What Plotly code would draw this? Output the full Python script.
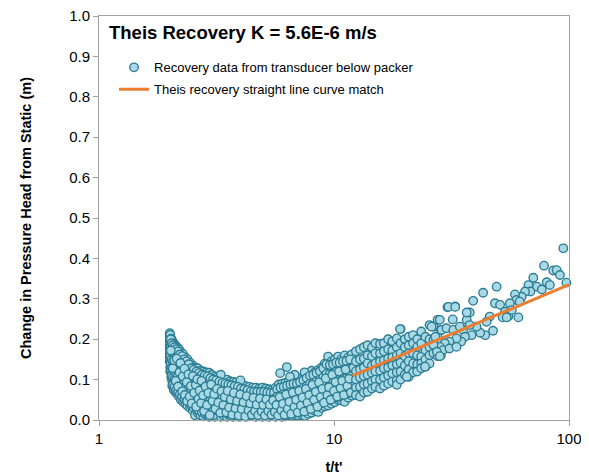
import plotly.graph_objects as go

# ---- Data ----
# Late-time recovery (low t/t'), dense cloud
late_t = [
    2.00, 2.00, 2.00, 2.00, 2.00, 2.00, 2.00, 2.00,
    2.01, 2.01, 2.01, 2.01, 2.01, 2.01,
    2.03, 2.03, 2.03, 2.03, 2.03, 2.03,
    2.05, 2.05, 2.05, 2.05, 2.05, 2.05, 2.05,
    2.08, 2.08, 2.08, 2.08, 2.08, 2.08, 2.08,
    2.11, 2.11, 2.11, 2.11, 2.11, 2.11, 2.11,
    2.15, 2.15, 2.15, 2.15, 2.15, 2.15, 2.15,
    2.19, 2.19, 2.19, 2.19, 2.19, 2.19, 2.19,
    2.23, 2.23, 2.23, 2.23, 2.23, 2.23, 2.23,
    2.28, 2.28, 2.28, 2.28, 2.28, 2.28, 2.28,
    2.33, 2.33, 2.33, 2.33, 2.33, 2.33, 2.33,
    2.38, 2.38, 2.38, 2.38, 2.38, 2.38, 2.38,
    2.44, 2.44, 2.44, 2.44, 2.44, 2.44, 2.44,
    2.50, 2.50, 2.50, 2.50, 2.50, 2.50, 2.50,
    2.56, 2.56, 2.56, 2.56, 2.56, 2.56, 2.56,
    2.63, 2.63, 2.63, 2.63, 2.63, 2.63, 2.63,
    2.70, 2.70, 2.70, 2.70, 2.70, 2.70, 2.70,
    2.78, 2.78, 2.78, 2.78, 2.78, 2.78, 2.78,
    2.86, 2.86, 2.86, 2.86, 2.86, 2.86, 2.86,
    2.94, 2.94, 2.94, 2.94, 2.94, 2.94, 2.94,
    3.02, 3.02, 3.02, 3.02, 3.02, 3.02, 3.02,
    3.11, 3.11, 3.11, 3.11, 3.11, 3.11, 3.11,
    3.20, 3.20, 3.20, 3.20, 3.20, 3.20,
    3.30, 3.30, 3.30, 3.30, 3.30, 3.30, 3.30,
    3.40, 3.40, 3.40, 3.40, 3.40, 3.40,
    3.50, 3.50, 3.50, 3.50, 3.50, 3.50, 3.50,
    3.61, 3.61, 3.61, 3.61, 3.61, 3.61,
    3.72, 3.72, 3.72, 3.72, 3.72, 3.72,
    3.84, 3.84, 3.84, 3.84, 3.84, 3.84,
    3.96, 3.96, 3.96, 3.96, 3.96, 3.96,
    4.09, 4.09, 4.09, 4.09, 4.09, 4.09,
    4.22, 4.22, 4.22, 4.22, 4.22, 4.22,
    4.36, 4.36, 4.36, 4.36, 4.36, 4.36,
    4.50, 4.50, 4.50, 4.50, 4.50,
    4.65, 4.65, 4.65, 4.65, 4.65, 4.65,
    4.80, 4.80, 4.80, 4.80, 4.80,
    4.96, 4.96, 4.96, 4.96, 4.96, 4.96,
    5.12, 5.12, 5.12, 5.12, 5.12,
    5.29, 5.29, 5.29, 5.29, 5.29, 5.29,
    5.46, 5.46, 5.46, 5.46, 5.46,
    5.64, 5.64, 5.64, 5.64, 5.64, 5.64,
    5.82, 5.82, 5.82, 5.82, 5.82,
    6.01, 6.01, 6.01, 6.01, 6.01, 6.01,
    6.21, 6.21, 6.21, 6.21, 6.21, 6.21,
    6.41, 6.41, 6.41, 6.41, 6.41, 6.41,
    6.62, 6.62, 6.62, 6.62, 6.62, 6.62,
    6.84, 6.84, 6.84, 6.84, 6.84, 6.84,
    7.06, 7.06, 7.06, 7.06, 7.06, 7.06,
    7.29, 7.29, 7.29, 7.29, 7.29, 7.29,
    7.53, 7.53, 7.53, 7.53, 7.53, 7.53,
    7.78, 7.78, 7.78, 7.78, 7.78, 7.78,
    8.03, 8.03, 8.03, 8.03, 8.03, 8.03,
    8.30, 8.30, 8.30, 8.30, 8.30, 8.30,
    8.57, 8.57, 8.57, 8.57, 8.57, 8.57,
    8.85, 8.85, 8.85, 8.85, 8.85, 8.85,
    9.14, 9.14, 9.14, 9.14, 9.14, 9.14,
    9.44, 9.44, 9.44, 9.44, 9.44, 9.44, 9.44,
    9.75, 9.75, 9.75, 9.75, 9.75, 9.75,
    10.07, 10.07, 10.07, 10.07, 10.07, 10.07,
    10.40, 10.40, 10.40, 10.40, 10.40, 10.40,
    10.74, 10.74, 10.74, 10.74, 10.74, 10.74,
    11.10, 11.10, 11.10, 11.10, 11.10, 11.10,
    11.50, 11.50, 11.50, 11.50, 11.50, 11.50,
    11.90, 11.90, 11.90, 11.90, 11.90, 11.90,
    6.30, 5.90, 6.80, 7.50, 4.00, 3.30, 6.50,
]
late_dh = [
    0.215, 0.206, 0.196, 0.186, 0.176, 0.165, 0.155, 0.145,
    0.211, 0.190, 0.171, 0.150, 0.131, 0.120,
    0.201, 0.181, 0.160, 0.141, 0.121, 0.105,
    0.196, 0.175, 0.156, 0.135, 0.116, 0.096, 0.085,
    0.190, 0.171, 0.150, 0.131, 0.110, 0.091, 0.075,
    0.185, 0.166, 0.145, 0.124, 0.106, 0.086, 0.070,
    0.180, 0.161, 0.140, 0.121, 0.100, 0.081, 0.065,
    0.175, 0.154, 0.136, 0.115, 0.096, 0.075, 0.058,
    0.168, 0.150, 0.131, 0.110, 0.091, 0.070, 0.050,
    0.163, 0.144, 0.126, 0.105, 0.086, 0.066, 0.045,
    0.155, 0.139, 0.120, 0.101, 0.080, 0.061, 0.040,
    0.150, 0.131, 0.112, 0.094, 0.075, 0.056, 0.035,
    0.142, 0.124, 0.106, 0.088, 0.070, 0.051, 0.030,
    0.135, 0.118, 0.100, 0.082, 0.064, 0.046, 0.025,
    0.130, 0.112, 0.096, 0.078, 0.060, 0.040, 0.012,
    0.128, 0.109, 0.092, 0.074, 0.057, 0.036, 0.018,
    0.122, 0.105, 0.088, 0.071, 0.052, 0.032, 0.012,
    0.120, 0.101, 0.084, 0.066, 0.048, 0.028, 0.009,
    0.118, 0.098, 0.080, 0.062, 0.044, 0.025, 0.011,
    0.117, 0.095, 0.077, 0.059, 0.040, 0.022, 0.008,
    0.112, 0.092, 0.074, 0.056, 0.038, 0.020, 0.009,
    0.108, 0.090, 0.071, 0.052, 0.034, 0.016, 0.008,
    0.106, 0.086, 0.068, 0.050, 0.032, 0.014,
    0.104, 0.084, 0.066, 0.048, 0.030, 0.013, 0.008,
    0.100, 0.082, 0.064, 0.046, 0.028, 0.010,
    0.100, 0.080, 0.062, 0.044, 0.026, 0.012, 0.008,
    0.096, 0.078, 0.060, 0.042, 0.024, 0.009,
    0.094, 0.076, 0.058, 0.040, 0.022, 0.008,
    0.093, 0.074, 0.056, 0.038, 0.020, 0.009,
    0.090, 0.072, 0.054, 0.036, 0.018, 0.008,
    0.086, 0.070, 0.052, 0.034, 0.016, 0.009,
    0.084, 0.066, 0.050, 0.032, 0.014, 0.008,
    0.082, 0.064, 0.048, 0.030, 0.012, 0.009,
    0.080, 0.062, 0.046, 0.028, 0.010,
    0.080, 0.060, 0.044, 0.026, 0.012, 0.008,
    0.078, 0.060, 0.042, 0.024, 0.009,
    0.080, 0.062, 0.044, 0.026, 0.012, 0.008,
    0.078, 0.060, 0.042, 0.024, 0.009,
    0.076, 0.060, 0.044, 0.026, 0.012, 0.008,
    0.075, 0.058, 0.042, 0.026, 0.010,
    0.080, 0.062, 0.046, 0.028, 0.014, 0.008,
    0.088, 0.068, 0.050, 0.032, 0.014,
    0.090, 0.070, 0.052, 0.034, 0.016, 0.008,
    0.092, 0.074, 0.056, 0.036, 0.018, 0.009,
    0.095, 0.076, 0.058, 0.040, 0.022, 0.010,
    0.098, 0.078, 0.060, 0.042, 0.024, 0.010,
    0.100, 0.080, 0.062, 0.044, 0.026, 0.012,
    0.096, 0.080, 0.064, 0.046, 0.028, 0.011,
    0.104, 0.084, 0.066, 0.048, 0.030, 0.013,
    0.110, 0.090, 0.070, 0.052, 0.034, 0.010,
    0.112, 0.094, 0.074, 0.056, 0.036, 0.015,
    0.122, 0.100, 0.080, 0.060, 0.040, 0.018,
    0.118, 0.100, 0.082, 0.064, 0.044, 0.022,
    0.124, 0.106, 0.086, 0.066, 0.046, 0.020,
    0.130, 0.110, 0.090, 0.070, 0.050, 0.030,
    0.140, 0.118, 0.096, 0.076, 0.054, 0.034,
    0.157, 0.132, 0.110, 0.088, 0.066, 0.046, 0.036,
    0.145, 0.124, 0.102, 0.080, 0.060, 0.040,
    0.150, 0.128, 0.106, 0.084, 0.064, 0.044,
    0.157, 0.132, 0.110, 0.090, 0.070, 0.050,
    0.150, 0.130, 0.108, 0.088, 0.068, 0.048,
    0.160, 0.136, 0.114, 0.092, 0.072, 0.045,
    0.155, 0.134, 0.112, 0.094, 0.075, 0.055,
    0.162, 0.140, 0.118, 0.098, 0.078, 0.060,
    0.131, 0.116, 0.112, 0.118, 0.098, 0.112, 0.107,
]

# More late-time readings lying between the columns above
late2_t = [
    2.02, 2.02, 2.02, 2.02, 2.02,
    2.04, 2.04, 2.04, 2.04, 2.04,
    2.065, 2.065, 2.065, 2.065, 2.065, 2.065,
    2.095, 2.095, 2.095, 2.095, 2.095, 2.095,
    2.13, 2.13, 2.13, 2.13, 2.13, 2.13,
    2.17, 2.17, 2.17, 2.17, 2.17, 2.17,
    2.21, 2.21, 2.21, 2.21, 2.21, 2.21,
    2.255, 2.255, 2.255, 2.255, 2.255, 2.255,
    2.305, 2.305, 2.305, 2.305, 2.305, 2.305,
    2.355, 2.355, 2.355, 2.355, 2.355, 2.355,
    2.41, 2.41, 2.41, 2.41, 2.41, 2.41,
    2.47, 2.47, 2.47, 2.47, 2.47, 2.47,
    2.53, 2.53, 2.53, 2.53, 2.53, 2.53,
    2.60, 2.60, 2.60, 2.60, 2.60, 2.60,
    2.66, 2.66, 2.66, 2.66, 2.66, 2.66,
    2.74, 2.74, 2.74, 2.74, 2.74, 2.74,
    2.82, 2.82, 2.82, 2.82, 2.82, 2.82,
    2.90, 2.90, 2.90, 2.90, 2.90, 2.90,
    2.98, 2.98, 2.98, 2.98, 2.98, 2.98,
    3.06, 3.06, 3.06, 3.06, 3.06, 3.06,
    3.15, 3.15, 3.15, 3.15, 3.15,
    3.25, 3.25, 3.25, 3.25, 3.25,
    3.35, 3.35, 3.35, 3.35, 3.35,
    3.45, 3.45, 3.45, 3.45, 3.45,
    3.55, 3.55, 3.55, 3.55, 3.55,
    3.66, 3.66, 3.66, 3.66, 3.66,
    3.78, 3.78, 3.78, 3.78, 3.78,
    3.90, 3.90, 3.90, 3.90, 3.90,
    4.02, 4.02, 4.02, 4.02, 4.02,
    4.15, 4.15, 4.15, 4.15,
    4.29, 4.29, 4.29, 4.29,
    4.43, 4.43, 4.43, 4.43,
    4.57, 4.57, 4.57, 4.57,
    4.72, 4.72, 4.72, 4.72,
    4.88, 4.88, 4.88, 4.88,
    5.04, 5.04, 5.04, 5.04,
    5.20, 5.20, 5.20, 5.20,
    5.37, 5.37, 5.37, 5.37,
    5.55, 5.55, 5.55, 5.55,
    5.73, 5.73, 5.73, 5.73,
    5.92, 5.92, 5.92, 5.92,
    6.11, 6.11, 6.11, 6.11, 6.11,
    6.31, 6.31, 6.31, 6.31, 6.31,
    6.52, 6.52, 6.52, 6.52, 6.52,
    6.73, 6.73, 6.73, 6.73, 6.73,
    6.95, 6.95, 6.95, 6.95, 6.95,
    7.17, 7.17, 7.17, 7.17, 7.17,
    7.41, 7.41, 7.41, 7.41, 7.41,
    7.65, 7.65, 7.65, 7.65, 7.65,
    7.90, 7.90, 7.90, 7.90, 7.90,
    8.16, 8.16, 8.16, 8.16, 8.16,
    8.43, 8.43, 8.43, 8.43, 8.43,
    8.71, 8.71, 8.71, 8.71, 8.71,
    9.00, 9.00, 9.00, 9.00, 9.00,
    9.29, 9.29, 9.29, 9.29, 9.29,
    9.60, 9.60, 9.60, 9.60, 9.60,
    9.90, 9.90, 9.90, 9.90, 9.90,
    10.23, 10.23, 10.23, 10.23, 10.23,
    10.57, 10.57, 10.57, 10.57, 10.57,
    10.92, 10.92, 10.92, 10.92, 10.92,
    11.30, 11.30, 11.30, 11.30, 11.30,
    11.70, 11.70, 11.70, 11.70, 11.70,
]
late2_dh = [
    0.200, 0.180, 0.160, 0.140, 0.125,
    0.190, 0.170, 0.150, 0.130, 0.110,
    0.185, 0.165, 0.145, 0.125, 0.105, 0.088,
    0.180, 0.160, 0.140, 0.120, 0.100, 0.082,
    0.175, 0.155, 0.135, 0.115, 0.095, 0.075,
    0.170, 0.150, 0.130, 0.110, 0.090, 0.070,
    0.162, 0.142, 0.122, 0.102, 0.082, 0.064,
    0.158, 0.138, 0.118, 0.098, 0.078, 0.058,
    0.150, 0.130, 0.110, 0.090, 0.070, 0.052,
    0.145, 0.125, 0.106, 0.086, 0.066, 0.048,
    0.138, 0.120, 0.100, 0.083, 0.064, 0.045,
    0.128, 0.110, 0.092, 0.074, 0.055, 0.036,
    0.124, 0.106, 0.088, 0.070, 0.052, 0.030,
    0.120, 0.102, 0.084, 0.066, 0.048, 0.026,
    0.116, 0.098, 0.080, 0.062, 0.044, 0.024,
    0.112, 0.094, 0.076, 0.058, 0.040, 0.020,
    0.110, 0.092, 0.074, 0.055, 0.036, 0.017,
    0.108, 0.088, 0.070, 0.052, 0.032, 0.015,
    0.104, 0.084, 0.066, 0.048, 0.030, 0.014,
    0.100, 0.081, 0.062, 0.044, 0.026, 0.012,
    0.098, 0.079, 0.060, 0.042, 0.024,
    0.095, 0.076, 0.058, 0.040, 0.022,
    0.092, 0.074, 0.056, 0.038, 0.020,
    0.090, 0.072, 0.054, 0.036, 0.018,
    0.088, 0.070, 0.052, 0.034, 0.016,
    0.086, 0.068, 0.050, 0.032, 0.015,
    0.084, 0.066, 0.048, 0.030, 0.014,
    0.082, 0.064, 0.046, 0.028, 0.012,
    0.078, 0.060, 0.043, 0.026, 0.012,
    0.076, 0.058, 0.041, 0.024,
    0.074, 0.056, 0.039, 0.022,
    0.071, 0.054, 0.037, 0.020,
    0.070, 0.052, 0.035, 0.018,
    0.070, 0.052, 0.035, 0.017,
    0.070, 0.052, 0.034, 0.017,
    0.070, 0.052, 0.034, 0.017,
    0.068, 0.050, 0.033, 0.017,
    0.067, 0.050, 0.034, 0.018,
    0.068, 0.052, 0.036, 0.019,
    0.076, 0.058, 0.040, 0.022,
    0.080, 0.060, 0.042, 0.024,
    0.082, 0.064, 0.045, 0.026, 0.012,
    0.085, 0.066, 0.048, 0.029, 0.014,
    0.088, 0.069, 0.050, 0.032, 0.016,
    0.090, 0.070, 0.052, 0.034, 0.018,
    0.090, 0.072, 0.054, 0.036, 0.019,
    0.094, 0.074, 0.056, 0.038, 0.020,
    0.098, 0.080, 0.060, 0.042, 0.024,
    0.104, 0.084, 0.064, 0.045, 0.026,
    0.110, 0.090, 0.070, 0.050, 0.030,
    0.112, 0.092, 0.072, 0.052, 0.032,
    0.116, 0.096, 0.076, 0.056, 0.034,
    0.120, 0.100, 0.080, 0.060, 0.040,
    0.128, 0.106, 0.086, 0.064, 0.044,
    0.138, 0.114, 0.092, 0.070, 0.050,
    0.136, 0.114, 0.092, 0.070, 0.050,
    0.138, 0.116, 0.094, 0.074, 0.054,
    0.142, 0.120, 0.098, 0.076, 0.056,
    0.142, 0.120, 0.100, 0.078, 0.058,
    0.145, 0.124, 0.102, 0.082, 0.062,
    0.146, 0.125, 0.104, 0.084, 0.064,
    0.150, 0.128, 0.108, 0.088, 0.068,
]

# Further irregularly placed late-time readings inside the cloud
late3_t = [
    2.02, 2.06, 2.09, 2.12, 2.14, 2.17, 2.20, 2.22, 2.26, 2.27,
    2.31, 2.32, 2.36, 2.37, 2.40, 2.43, 2.46, 2.48, 2.51, 2.54,
    2.58, 2.59, 2.62, 2.65, 2.68, 2.72, 2.73, 2.77, 2.80, 2.84,
    2.88, 2.92, 2.96, 3.00, 3.04, 3.09, 3.13, 3.18, 3.22, 3.28,
    3.32, 3.38, 3.43, 3.48, 3.53, 3.58, 3.64, 3.69, 3.75, 3.81,
    3.87, 3.93, 3.99, 4.05, 4.12, 4.19, 4.25, 4.33, 4.40, 4.47,
    4.54, 4.61, 4.69, 4.76, 4.84, 4.92, 5.00, 5.08, 5.16, 5.25,
    5.33, 5.42, 5.51, 5.60, 5.69, 5.78, 5.87, 5.97, 6.06, 6.16,
    6.26, 6.36, 6.46, 6.57, 6.68, 6.79, 6.90, 7.01, 7.12, 7.23,
    7.35, 7.47, 7.59, 7.71, 7.84, 7.97, 8.10, 8.23, 8.37, 8.50,
    8.64, 8.78, 8.93, 9.07, 9.22, 9.37, 9.52, 9.68, 9.83, 10.00,
    10.15, 10.32, 10.50, 10.66, 10.84, 11.02, 11.20, 11.40, 11.60, 11.80,
    12.1, 12.6, 13.1, 13.6, 14.2, 14.8,
]
late3_dh = [
    0.172, 0.128, 0.148, 0.097, 0.152, 0.083, 0.118, 0.141, 0.071, 0.108,
    0.127, 0.062, 0.094, 0.047, 0.113, 0.058, 0.084, 0.041, 0.109, 0.067,
    0.087, 0.033, 0.101, 0.052, 0.073, 0.042, 0.097, 0.061, 0.022, 0.083,
    0.037, 0.067, 0.012, 0.088, 0.047, 0.064, 0.028, 0.077, 0.043, 0.018,
    0.071, 0.037, 0.057, 0.019, 0.072, 0.031, 0.051, 0.013, 0.067, 0.029,
    0.047, 0.011, 0.063, 0.027, 0.044, 0.009, 0.059, 0.024, 0.041, 0.013,
    0.055, 0.022, 0.038, 0.012, 0.053, 0.021, 0.037, 0.011, 0.051, 0.022,
    0.038, 0.013, 0.049, 0.020, 0.037, 0.011, 0.057, 0.024, 0.040, 0.013,
    0.063, 0.028, 0.045, 0.015, 0.068, 0.033, 0.050, 0.019, 0.072, 0.036,
    0.056, 0.021, 0.077, 0.043, 0.062, 0.027, 0.087, 0.050, 0.070, 0.033,
    0.093, 0.057, 0.077, 0.043, 0.103, 0.062, 0.081, 0.050, 0.112, 0.072,
    0.094, 0.058, 0.120, 0.079, 0.097, 0.062, 0.125, 0.084, 0.102, 0.068,
    0.130, 0.092, 0.113, 0.079, 0.125, 0.090,
]

# Early-time recovery (high t/t'), sparser
early_t = [
    12.4, 12.4, 12.4, 12.4, 12.4, 12.4,
    12.9, 12.9, 12.9, 12.9, 12.9, 12.9,
    13.4, 13.4, 13.4, 13.4, 13.4, 13.4,
    13.9, 13.9, 13.9, 13.9, 13.9, 13.9,
    14.5, 14.5, 14.5, 14.5, 14.5, 14.5,
    15.0, 15.0, 15.0, 15.0, 15.0, 15.0,
    15.7, 15.7, 15.7, 15.7, 15.7, 15.7,
    16.3, 16.3, 16.3, 16.3, 16.3, 16.3,
    17.0, 17.0, 17.0, 17.0, 17.0, 17.0,
    17.7, 17.7, 17.7, 17.7, 17.7, 17.7,
    18.5, 18.5, 18.5, 18.5, 18.5, 18.5, 18.5,
    19.2, 19.2, 19.2, 19.2, 19.2, 19.2,
    20.0, 20.0, 20.0, 20.0, 20.0,
    20.8, 20.8, 20.8, 20.8, 20.8, 20.8,
    21.7, 21.7, 21.7, 21.7, 21.7,
    22.6, 22.6, 22.6, 22.6, 22.6,
    23.5, 23.5, 23.5, 23.5, 23.5,
    24.5, 24.5, 24.5, 24.5,
    25.5, 25.5, 25.5, 25.5, 25.5,
    26.5, 26.5, 26.5, 26.5,
    27.6, 27.6, 27.6, 27.6,
    28.5, 28.5, 28.5, 28.5,
    94.6, 78.3, 85.7, 88.6, 91.5, 97.5, 80.4, 82.9, 70.5, 67.2,
    73.1, 76.6, 68.5, 65.0, 62.9, 58.9, 59.8, 56.0, 61.7, 49.2,
    43.1, 39.1, 48.4, 50.9, 30.4, 32.8, 37.8, 28.2, 32.0, 53.4,
    55.2, 60.9, 52.2, 46.0, 44.6, 47.5, 44.0, 41.9, 38.5, 40.4,
    36.7, 37.8, 35.4, 36.1, 34.8, 33.2, 31.0, 29.6, 28.2, 26.5,
    27.0, 28.7, 26.0, 30.1, 32.2, 34.3, 36.7, 29.1, 31.0, 33.2,
    27.4, 28.2, 54.3, 57.1, 19.1, 24.4, 20.4, 30.7, 32.8,
]
early_dh = [
    0.170, 0.145, 0.121, 0.100, 0.080, 0.062,
    0.175, 0.150, 0.125, 0.105, 0.082, 0.058,
    0.180, 0.152, 0.130, 0.108, 0.088, 0.068,
    0.185, 0.160, 0.140, 0.112, 0.090, 0.070,
    0.180, 0.158, 0.135, 0.116, 0.096, 0.078,
    0.190, 0.165, 0.140, 0.120, 0.100, 0.082,
    0.188, 0.165, 0.145, 0.122, 0.100, 0.078,
    0.190, 0.170, 0.148, 0.128, 0.105, 0.085,
    0.200, 0.175, 0.152, 0.130, 0.110, 0.090,
    0.195, 0.172, 0.155, 0.135, 0.115, 0.095,
    0.202, 0.180, 0.160, 0.138, 0.118, 0.098, 0.087,
    0.225, 0.190, 0.165, 0.142, 0.120, 0.100,
    0.200, 0.180, 0.158, 0.135, 0.112,
    0.206, 0.185, 0.165, 0.145, 0.125, 0.107,
    0.210, 0.190, 0.165, 0.140, 0.118,
    0.200, 0.181, 0.160, 0.138, 0.120,
    0.219, 0.190, 0.157, 0.140, 0.128,
    0.206, 0.173, 0.150, 0.132,
    0.235, 0.200, 0.180, 0.160, 0.140,
    0.198, 0.186, 0.231, 0.165,
    0.248, 0.206, 0.169, 0.158,
    0.223, 0.181, 0.190, 0.160,
    0.425, 0.382, 0.370, 0.371, 0.359, 0.340, 0.341, 0.334, 0.352, 0.334,
    0.330, 0.323, 0.318, 0.318, 0.305, 0.311, 0.297, 0.289, 0.293, 0.330,
    0.315, 0.295, 0.289, 0.285, 0.279, 0.281, 0.266, 0.248, 0.249, 0.268,
    0.257, 0.254, 0.254, 0.256, 0.243, 0.221, 0.210, 0.216, 0.210, 0.231,
    0.248, 0.235, 0.223, 0.206, 0.194, 0.202, 0.194, 0.190, 0.181, 0.186,
    0.206, 0.223, 0.231, 0.227, 0.223, 0.231, 0.266, 0.173, 0.177, 0.181,
    0.169, 0.158, 0.254, 0.272, 0.225, 0.132, 0.107, 0.280, 0.280,
]

recovery_t = late_t + late2_t + late3_t + early_t
recovery_dh = late_dh + late2_dh + late3_dh + early_dh

# Theis recovery straight-line match (end points)
theis_t = [12.0, 100.0]
theis_dh = [0.11, 0.335]

FONT = "Liberation Sans, Arial, sans-serif"
AXIS_GREY = "#a0a0a0"

fig = go.Figure()
fig.add_trace(go.Scatter(
    x=recovery_t, y=recovery_dh, mode="markers",
    name="Recovery data from transducer below packer",
    legendgroup="a",
    marker=dict(size=8.5, color="#a9d9e4", line=dict(color="#2c7d95", width=1.35)),
    cliponaxis=False,
))
fig.add_trace(go.Scatter(
    x=theis_t, y=theis_dh, mode="lines",
    name="Theis recovery straight line curve match",
    legendgroup="b",
    line=dict(color="#ed7d31", width=3),
))

# The page body adds an 8px offset, so the figure is 8px smaller and margins shifted.
fig.update_layout(
    width=581, height=467,
    margin=dict(l=91, r=20, t=8, b=55),
    paper_bgcolor="white", plot_bgcolor="white",
    font=dict(family=FONT, color="#000000"),
    showlegend=True,
    legend=dict(
        x=0.032, y=0.91, xanchor="left", yanchor="top",
        bgcolor="rgba(0,0,0,0)", font=dict(family=FONT, size=13, color="#000000"),
        traceorder="grouped", tracegroupgap=2, itemwidth=30,
    ),
    xaxis=dict(
        type="log", range=[0, 2], automargin=False,
        tickvals=[1, 10, 100], ticktext=["1", "10", "100"],
        showline=True, linecolor=AXIS_GREY, linewidth=1, mirror=True,
        ticks="outside", ticklen=5, tickcolor=AXIS_GREY,
        showgrid=False, zeroline=False, ticklabeloverflow="allow",
        tickfont=dict(family=FONT, size=15, color="#000000"),
        title=dict(text="t/t'", font=dict(family=FONT, size=14.5, weight="bold"), standoff=18),
    ),
    yaxis=dict(
        range=[0, 1], dtick=0.1, tick0=0, tickformat=".1f", automargin=False,
        showline=True, linecolor=AXIS_GREY, linewidth=1, mirror=True,
        ticks="outside", ticklen=5, tickcolor=AXIS_GREY,
        showgrid=False, zeroline=False, ticklabeloverflow="allow",
        tickfont=dict(family=FONT, size=15, color="#000000"),
        title=dict(text="Change in Pressure Head from Static (m)",
                   font=dict(family=FONT, size=14.5, weight="bold"), standoff=34),
    ),
    annotations=[dict(
        text="Theis Recovery K = 5.6E-6 m/s", xref="paper", yref="paper",
        x=0.017, y=0.958, xanchor="left", yanchor="middle", showarrow=False,
        font=dict(family=FONT, size=18.5, weight="bold", color="#000000"),
    )],
)

fig.write_html("out.html")
